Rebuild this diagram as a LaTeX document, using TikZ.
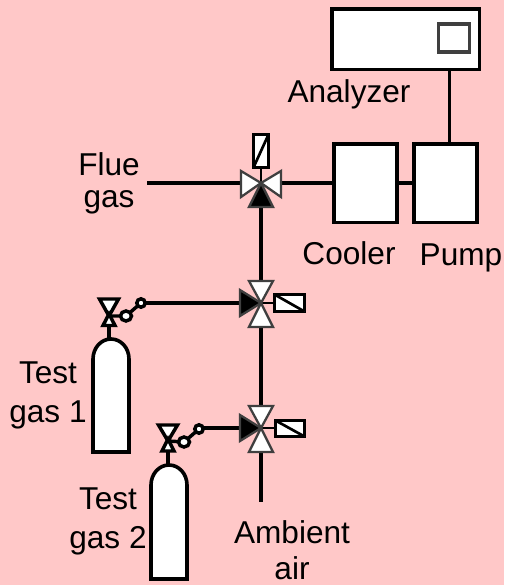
\documentclass[tikz,border=0pt]{standalone}
\usepackage{fontspec}
\setmainfont{Liberation Sans}
\definecolor{bgpink}{HTML}{FFC8C8}
\definecolor{vgray}{HTML}{3F3F3F}
\tikzset{
  x=0.75pt,y=-0.75pt,
  pipe/.style={draw=black,line width=2.6pt},
  thinpipe/.style={draw=black,line width=2.1pt},
  boxunit/.style={draw=black,fill=white,line width=2.7pt,line join=miter},
  innerbox/.style={draw=vgray,fill=white,line width=2.4pt},
  sol/.style={draw=black,fill=white,line width=2pt},
  wtri/.style={draw=vgray,fill=white,line width=1.7pt,line join=miter},
  btri/.style={draw=vgray,fill=black,line width=1.7pt,line join=miter},
  hand/.style={draw=black,fill=white,line width=2.6pt,line join=miter},
  lab/.style={font=\fontsize{23.7pt}{29.25pt}\selectfont,align=center,text=black,inner sep=0pt},
}
\begin{document}
\begin{tikzpicture}
\useasboundingbox (0,0) rectangle (504,585);
\fill[bgpink] (0,0) rectangle (504,585);
% coordinates
\coordinate (v1) at (261,183);
\coordinate (v2) at (261,303);
\coordinate (v3) at (261,428);
\coordinate (fg) at (147,183);
\coordinate (amb) at (261,502);
% pipes
\draw[pipe] (fg) -- (v1) -- (332,183);
\draw[pipe] (v1) -- (v2) -- (v3) -- (amb);
\draw[pipe] (399,183) -- (412,183);
\draw[pipe] (449.5,70) -- (449.5,143);
\draw[pipe] (145,303) -- (v2);
\draw[pipe] (203,428) -- (v3);
\draw[thinpipe] (261,183) -- (261,168);
\draw[thinpipe] (261,303) -- (274,303);
\draw[thinpipe] (261,428) -- (275,428);
% boxes
\draw[boxunit] (332,9) rectangle (479.5,69.5);
\draw[innerbox] (438.5,24) rectangle (469.5,52);
\draw[boxunit] (334,144) rectangle (397,222.5);
\draw[boxunit] (414,144) rectangle (477,222.5);
% valve 1
\draw[wtri] (261,183) -- (241,171) -- (241,197) -- cycle;
\draw[wtri] (261,183) -- (281,171) -- (281,197) -- cycle;
\draw[btri] (261,183) -- (249,207) -- (273,207) -- cycle;
\draw[sol] (253.5,134.5) rectangle (268.5,167.5);
\draw[sol] (253.5,167.5) -- (268.5,134.5);
% valve 2
\draw[wtri] (261,303) -- (249,281) -- (273,281) -- cycle;
\draw[wtri] (261,303) -- (249,327) -- (273,327) -- cycle;
\draw[btri] (261,303) -- (240,290) -- (240,316) -- cycle;
\draw[sol] (274.5,294.5) rectangle (304.5,311.5);
\draw[sol] (274.5,294.5) -- (304.5,311.5);
% valve 3
\draw[wtri] (261,428) -- (249,406) -- (273,406) -- cycle;
\draw[wtri] (261,428) -- (249,452) -- (273,452) -- cycle;
\draw[btri] (261,428) -- (240,415) -- (240,441) -- cycle;
\draw[sol] (275.5,420.5) rectangle (304.5,436.5);
\draw[sol] (275.5,420.5) -- (304.5,436.5);
% hand valve 1
\draw[pipe] (109,325) -- (109,340);
\draw[hand] (109,316) -- (99.5,299) -- (118.5,299) -- cycle;
\draw[hand] (109,314) -- (103,325.5) -- (115,325.5) -- cycle;
\draw[pipe] (109,316) -- (126,316) -- (141,303);
\draw[hand] (126,316) ellipse (5.5 and 5);
\draw[hand] (141,303) circle (4.2);
% cylinder 1
\draw[boxunit] (93,452) -- (93,359) arc (180:360:18 and 20) -- (129,452) -- cycle;
% hand valve 2
\draw[pipe] (168,449) -- (168,465);
\draw[hand] (168,441) -- (158.5,425) -- (177.5,425) -- cycle;
\draw[hand] (168,439) -- (162,451) -- (174,451) -- cycle;
\draw[pipe] (168,441) -- (184,442) -- (199,429);
\draw[hand] (184,442) ellipse (5.5 and 5);
\draw[hand] (199,429) circle (4.2);
% cylinder 2
\draw[boxunit] (151,579) -- (151,485) arc (180:360:18 and 20) -- (187,579) -- cycle;
% labels
\node[lab] (tan) at (349,94) {Analyzer};
\node[lab,font=\fontsize{23.7pt}{24pt}\selectfont] (tfg) at (109,183) {Flue\\gas};
\node[lab] (tco) at (349,253) {Cooler};
\node[lab] (tpu) at (461,257.5) {Pump};
\node[lab] (tg1) at (48,395) {Test\\gas 1};
\node[lab] (tg2) at (108,521.5) {Test\\gas 2};
\node[lab,font=\fontsize{23.7pt}{27pt}\selectfont] (tam) at (292,550.5) {Ambient\\air};
\end{tikzpicture}
\end{document}
